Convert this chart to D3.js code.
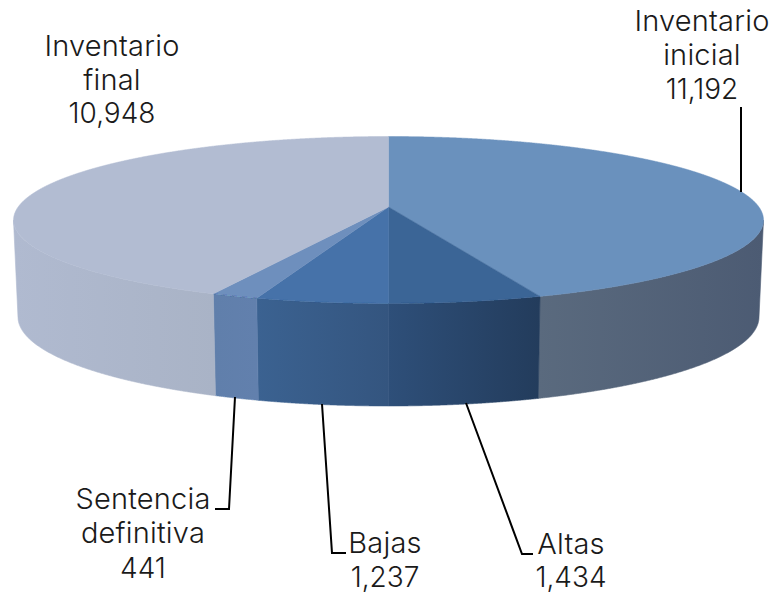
<!DOCTYPE html>
<html><head><meta charset="utf-8">
<script src="https://cdnjs.cloudflare.com/ajax/libs/d3/7.8.5/d3.min.js"></script>
<style>html,body{margin:0;padding:0;background:#fff}svg{display:block}text{font-family:"Inter","Lato",sans-serif;font-size:29px;letter-spacing:0.2px;fill:#1a1a1a;font-weight:300}text.val{font-size:28px;letter-spacing:0}</style>
</head><body><svg id="c" width="775" height="593"></svg>
<script>
const categories = ["Inventario inicial","Altas","Bajas","Sentencia definitiva","Inventario final"];
const values = [11192,1434,1237,441,10948];
const topColors = ["#6a91bd","#3b6596","#4672a9","#6e8fbd","#b2bcd2"];
const sideLeft  = ["#5a6a7e","#2e4f79","#3b6291","#607fab","#b0bad0"];
const sideRight = ["#4c5b73","#233c5c","#34557f","#6280ad","#a9b3c6"];
const valueLabels = ["11,192","1,434","1,237","441","10,948"];
const labelLines = [["Inventario","inicial"],["Altas"],["Bajas"],["Sentencia","definitiva"],["Inventario","final"]];
const labelCenter = [702,571,385,143,112];
const labelBase = [[31,65,99],[554,587],[553,587],[509,543,578],[56,90,123]];
const leaders = [
 [[741,107],[741,192]],
 [[466,403],[522,554],[533,554]],
 [[322,404],[332,553],[346,553]],
 [[235,397],[229,509],[215,509]],
 []
];
const topE = {cx:388.5, cy:220, rx:375, ry:83.5};
const botE = {cx:388.5, cy:317, rx:370.5, ry:89};
const tilt = -0.156;

const svg = d3.select("#c");
const defs = svg.append("defs");
const pie = d3.pie().sort(null).value(d=>d).startAngle(0).endAngle(2*Math.PI);
const arcs = pie(values);
// Perspective map of the unit circle (keeps the circle, shifts the centre).
const norm = t => {
  const u=Math.sin(t), v=-Math.cos(t), d=1+tilt*v;
  return [u*Math.sqrt(1-tilt*tilt)/d,(v+tilt)/d];
};
const toE = (e,n)=>[e.cx+e.rx*n[0], e.cy+e.ry*n[1]];
const centre = toE(topE,[0,tilt]);
const line = d3.line();
const samples = (a,b)=>d3.range(0,1001).map(i=>a+(b-a)*i/1000);

arcs.forEach((a,i)=>{
  const pts = samples(a.startAngle,a.endAngle).map(norm).filter(n=>n[1]>=0);
  if(!pts.length) return;
  const upper = pts.map(n=>toE(topE,n));
  const lower = pts.map(n=>toE(botE,n)).reverse();
  const xs = upper.concat(lower).map(p=>p[0]);
  const g = defs.append("linearGradient").attr("id","g"+i).attr("gradientUnits","userSpaceOnUse")
    .attr("x1",d3.min(xs)).attr("x2",d3.max(xs)).attr("y1",0).attr("y2",0);
  g.append("stop").attr("offset",0).attr("stop-color",sideLeft[i]);
  g.append("stop").attr("offset",1).attr("stop-color",sideRight[i]);
  svg.append("path").attr("d",line(upper.concat(lower))+"Z").attr("fill",`url(#g${i})`)
    .attr("stroke",`url(#g${i})`).attr("stroke-width",0.6);
});
arcs.forEach((a,i)=>{
  const rim = samples(a.startAngle,a.endAngle).map(norm).map(n=>toE(topE,n));
  svg.append("path").attr("d",line([centre].concat(rim))+"Z").attr("fill",topColors[i]).attr("stroke",topColors[i]).attr("stroke-width",0.5);
});
leaders.forEach(l=>{ if(l.length) svg.append("path").attr("d",line(l)).attr("fill","none").attr("stroke","#000").attr("stroke-width",2); });
categories.forEach((c,i)=>{
  const lines = labelLines[i];
  lines.concat([valueLabels[i]]).forEach((s,k)=>{
    svg.append("text").attr("class",k===lines.length?"val":null).attr("x",labelCenter[i]).attr("y",labelBase[i][k]).attr("text-anchor","middle").text(s);
  });
});
</script></body></html>
